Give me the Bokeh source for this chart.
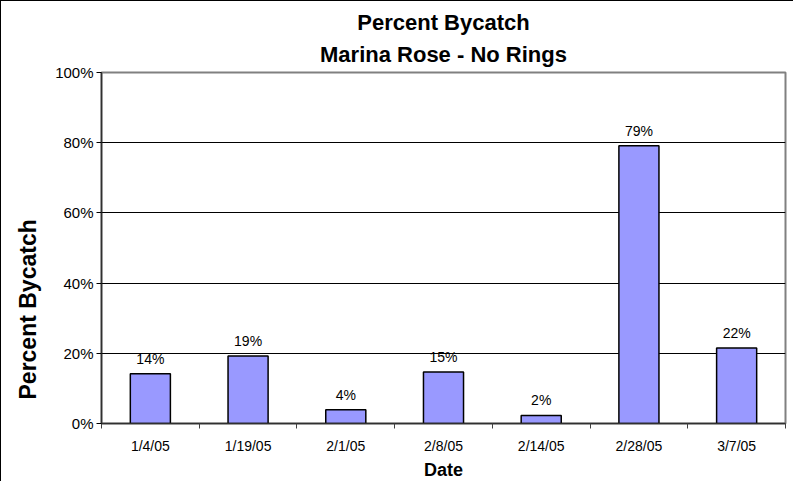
import numpy as np
from bokeh.plotting import figure
from bokeh.models import (ColumnDataSource, FixedTicker, NumeralTickFormatter, Range1d, Title)
from bokeh.core.properties import value
from bokeh.embed import file_html
from bokeh.resources import INLINE

dates = ["1/4/05", "1/19/05", "2/1/05", "2/8/05", "2/14/05", "2/28/05", "3/7/05"]
bycatch = [0.142, 0.192, 0.039, 0.147, 0.023, 0.791, 0.215]
bar_labels = ["14%", "19%", "4%", "15%", "2%", "79%", "22%"]
y_ticks = [0.0, 0.2, 0.4, 0.6, 0.8, 1.0]

FONT = "Liberation Sans"

centers = [i + 0.5 for i in range(len(dates))]
src = ColumnDataSource(dict(x=centers, top=bycatch, lab=bar_labels))

p = figure(width=793, height=481, output_backend="svg", toolbar_location=None,
           x_range=Range1d(0, len(dates)), y_range=Range1d(0, 1.0),
           min_border_left=100, min_border_right=9, min_border_top=71, min_border_bottom=56,
           styles={"border-top": "1px solid black", "border-left": "1px solid black"})
p.title = None
p.background_fill_color = "white"
p.border_fill_color = "white"
p.outline_line_color = "#808080"
p.outline_line_width = 2

t2 = Title(text="Marina Rose - No Rings", align="center", text_font=FONT,
           text_font_size="22px", text_font_style="bold", text_color="black", standoff=11)
t1 = Title(text="Percent Bycatch", align="center", text_font=FONT,
           text_font_size="22px", text_font_style="bold", text_color="black", standoff=0)
p.add_layout(t2, "above")
p.add_layout(t1, "above")

p.vbar(x="x", top="top", width=0.41, source=src, fill_color="#9999FF",
       line_color="black", line_width=1.5)
p.text(x="x", y="top", text="lab", source=src, text_align="center",
       text_baseline="alphabetic", y_offset=-15, text_font=value(FONT),
       text_font_size="14px", text_color="black")

# y axis
p.yaxis.ticker = FixedTicker(ticks=y_ticks)
p.yaxis.formatter = NumeralTickFormatter(format="0%")
p.yaxis.major_tick_out = 5
p.yaxis.major_tick_in = 0
p.yaxis.minor_tick_line_color = None
p.yaxis.major_label_standoff = 3
p.yaxis.major_label_text_font = FONT
p.yaxis.major_label_text_font_size = "15px"
p.yaxis.major_label_text_color = "black"
p.yaxis.axis_line_color = "#303030"
p.yaxis.axis_line_width = 1.5
p.yaxis.major_tick_line_color = "black"

ytitle = Title(text="Percent Bycatch", align="left", offset=24, text_font=FONT,
               text_font_size="23px", text_font_style="bold", text_color="black",
               standoff=23)
p.add_layout(ytitle, "left")

# x axis
p.xaxis.ticker = FixedTicker(ticks=centers, minor_ticks=list(range(len(dates) + 1)))
p.xaxis.major_label_overrides = {c: d for c, d in zip(centers, dates)}
p.xaxis.major_tick_line_color = None
p.xaxis.major_tick_out = 0
p.xaxis.major_tick_in = 0
p.xaxis.minor_tick_out = 5
p.xaxis.minor_tick_in = 0
p.xaxis.minor_tick_line_color = "#404040"
p.xaxis.axis_line_color = "#303030"
p.xaxis.axis_line_width = 1.5
p.xaxis.major_label_standoff = 9
p.xaxis.major_label_text_font = FONT
p.xaxis.major_label_text_font_size = "14px"
p.xaxis.major_label_text_color = "black"
p.xaxis.axis_label = "Date"
p.xaxis.axis_label_text_font = FONT
p.xaxis.axis_label_text_font_size = "18px"
p.xaxis.axis_label_text_font_style = "bold"
p.xaxis.axis_label_text_color = "black"
p.xaxis.axis_label_standoff = 3

p.xgrid.grid_line_color = None
p.ygrid.ticker = FixedTicker(ticks=y_ticks)
p.ygrid.grid_line_color = "black"
p.ygrid.grid_line_width = 1

open("out.html", "w").write(file_html(p, INLINE))
